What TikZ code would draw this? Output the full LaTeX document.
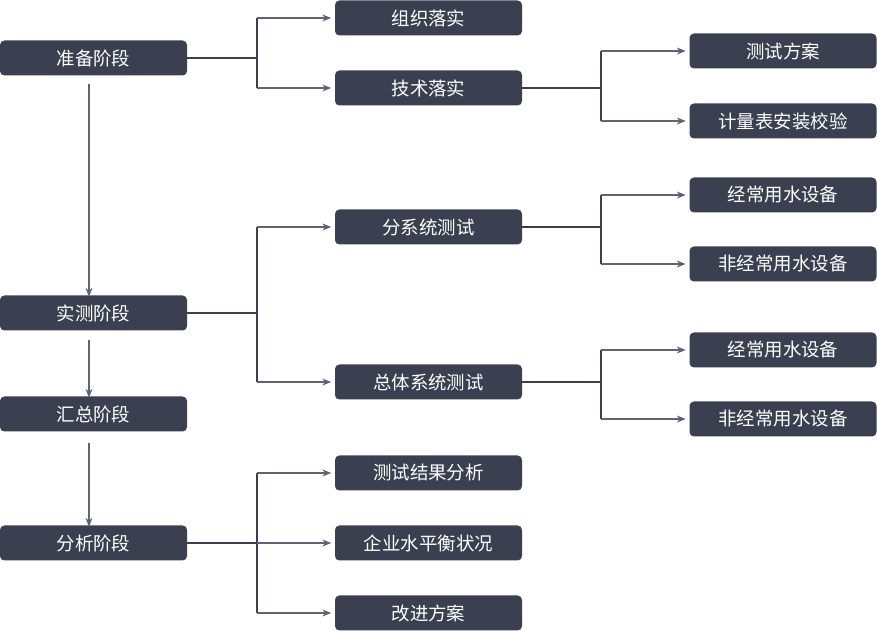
\documentclass[tikz,border=0pt]{standalone}
\usepackage{fontspec}
\setmainfont{Noto Sans CJK SC}
\usepackage{xcolor}
\usetikzlibrary{shapes,arrows.meta,positioning}

\definecolor{boxgray}{HTML}{3A4050}
\definecolor{linegray}{HTML}{5E6474}

\begin{document}
\begin{tikzpicture}[
    x=1cm, y=1cm,
    box/.style={rectangle, rounded corners=2.5pt, fill=boxgray, text=white, text centered, minimum height=0.7cm, minimum width=3.74cm, font=\fontsize{10.5}{12}\selectfont},
    trunk/.style={draw=boxgray, line width=1.1pt},
    arr/.style={draw=linegray, line width=0.6pt, -{Stealth[length=5pt,width=4pt]}, shorten >=2pt}
]
    \useasboundingbox (0,0) rectangle (17.54,-12.62);

    % stages
    \node (prep) [box] at (1.87,-1.16) {准备阶段};
    \node (meas) [box] at (1.87,-6.26) {实测阶段};
    \node (sum) [box] at (1.87,-8.28) {汇总阶段};
    \node (ana) [box] at (1.87,-10.86) {分析阶段};

    % second level
    \node (org) [box] at (8.57,-0.36) {组织落实};
    \node (tech) [box] at (8.57,-1.76) {技术落实};
    \node (subsys) [box] at (8.57,-4.54) {分系统测试};
    \node (total) [box] at (8.57,-7.64) {总体系统测试};
    \node (result) [box] at (8.57,-9.46) {测试结果分析};
    \node (balance) [box] at (8.57,-10.86) {企业水平衡状况};
    \node (plan) [box] at (8.57,-12.26) {改进方案};

    % third level
    \node (testplan) [box] at (15.66,-1.02) {测试方案};
    \node (meter) [box] at (15.66,-2.42) {计量表安装校验};
    \node (reg1) [box] at (15.66,-3.90) {经常用水设备};
    \node (irr1) [box] at (15.66,-5.28) {非经常用水设备};
    \node (reg2) [box] at (15.66,-7.00) {经常用水设备};
    \node (irr2) [box] at (15.66,-8.38) {非经常用水设备};

    % stage flow
    \draw [arr] ([xshift=-0.09cm, yshift=-0.16cm]prep.south) -- ([xshift=-0.09cm, yshift=-0.1cm]meas.north);
    \draw [arr] ([xshift=-0.09cm, yshift=-0.18cm]meas.south) -- ([xshift=-0.09cm, yshift=-0.1cm]sum.north);
    \draw [arr] ([xshift=-0.09cm, yshift=-0.22cm]sum.south) -- ([xshift=-0.09cm, yshift=-0.1cm]ana.north);

    % junctions
    \coordinate (jprep) at (5.14,-1.16);
    \coordinate (jmeas) at (5.14,-6.26);
    \coordinate (jana) at (5.14,-10.86);
    \coordinate (jtech) at (12.02,-1.76);
    \coordinate (jsub) at (12.02,-4.54);
    \coordinate (jtot) at (12.02,-7.64);

    \draw [trunk] (prep.east) -- (jprep);
    \draw [trunk] (jprep |- org) -- (jprep |- tech);
    \draw [arr] (jprep |- org) -- (org.west);
    \draw [arr] (jprep |- tech) -- (tech.west);

    \draw [trunk] (meas.east) -- (jmeas);
    \draw [trunk] (jmeas |- subsys) -- (jmeas |- total);
    \draw [arr] (jmeas |- subsys) -- (subsys.west);
    \draw [arr] (jmeas |- total) -- (total.west);

    \draw [trunk] (ana.east) -- (jana);
    \draw [trunk] (jana |- result) -- (jana |- plan);
    \draw [arr] (jana |- result) -- (result.west);
    \draw [arr] (jana) -- (balance.west);
    \draw [arr] (jana |- plan) -- (plan.west);

    \draw [trunk] (tech.east) -- (jtech);
    \draw [trunk] (jtech |- testplan) -- (jtech |- meter);
    \draw [arr] (jtech |- testplan) -- (testplan.west);
    \draw [arr] (jtech |- meter) -- (meter.west);

    \draw [trunk] (subsys.east) -- (jsub);
    \draw [trunk] (jsub |- reg1) -- (jsub |- irr1);
    \draw [arr] (jsub |- reg1) -- (reg1.west);
    \draw [arr] (jsub |- irr1) -- (irr1.west);

    \draw [trunk] (total.east) -- (jtot);
    \draw [trunk] (jtot |- reg2) -- (jtot |- irr2);
    \draw [arr] (jtot |- reg2) -- (reg2.west);
    \draw [arr] (jtot |- irr2) -- (irr2.west);
\end{tikzpicture}
\end{document}
